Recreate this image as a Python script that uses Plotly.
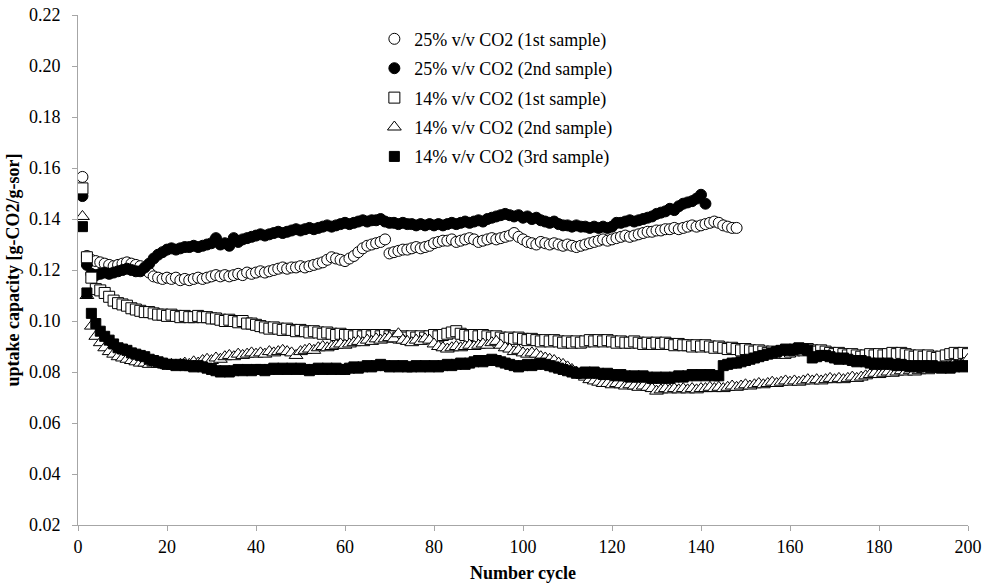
import plotly.graph_objects as go

# ---------------- data ----------------
s25_1 = [0.1565, 0.1255,
         0.124, 0.1235, 0.123, 0.1225, 0.122, 0.1215, 0.122, 0.1225, 0.123, 0.1225, 0.122, 0.1215,
         0.120, 0.119, 0.1175, 0.117, 0.1165, 0.117,
         0.1165, 0.117, 0.116, 0.1165, 0.116, 0.1165, 0.117, 0.1165, 0.117, 0.1175,
         0.118, 0.1175, 0.118, 0.1175, 0.118, 0.1185, 0.118, 0.119, 0.1185, 0.119,
         0.1195, 0.119, 0.1195, 0.120, 0.1205, 0.121, 0.1205, 0.121, 0.121, 0.1215,
         0.121, 0.1215, 0.122, 0.1225, 0.123, 0.124, 0.125, 0.1245, 0.124, 0.1235,
         0.1245, 0.1255, 0.127, 0.1285, 0.1295, 0.130, 0.1305, 0.131, 0.132, 0.1265,
         0.127, 0.1275, 0.128, 0.128, 0.1285, 0.129, 0.1285, 0.129, 0.1295, 0.1305,
         0.131, 0.1315, 0.1315, 0.132, 0.131, 0.1315, 0.132, 0.1325, 0.132, 0.131,
         0.1315, 0.132, 0.1325, 0.132, 0.1325, 0.133, 0.1335, 0.1345, 0.133, 0.132,
         0.131, 0.1305, 0.130, 0.131, 0.1305, 0.130, 0.1305, 0.130, 0.1295, 0.130,
         0.1295, 0.129, 0.1295, 0.130, 0.1305, 0.131, 0.1315, 0.132, 0.1315, 0.132,
         0.1325, 0.133, 0.1335, 0.133, 0.1335, 0.134, 0.1345, 0.135, 0.135, 0.1355,
         0.1355, 0.136, 0.136, 0.1365, 0.136, 0.1365, 0.137, 0.1375, 0.137, 0.1375,
         0.138, 0.1385, 0.139, 0.1385, 0.1375, 0.137, 0.1365, 0.1365]

s25_2 = [0.149, 0.122,
         0.1185, 0.118, 0.1185, 0.119, 0.1185, 0.119, 0.1195, 0.120, 0.1205, 0.120, 0.1195, 0.1195,
         0.121, 0.1225, 0.1245, 0.126, 0.127, 0.128,
         0.1285, 0.128, 0.1285, 0.129, 0.129, 0.1295, 0.129, 0.1295, 0.130, 0.1305,
         0.1325, 0.130, 0.1305, 0.1295, 0.1325, 0.131, 0.132, 0.1325, 0.133, 0.1335,
         0.134, 0.1335, 0.134, 0.1345, 0.135, 0.1345, 0.135, 0.1355, 0.136, 0.1355,
         0.136, 0.1365, 0.136, 0.1365, 0.137, 0.1375, 0.137, 0.1375, 0.138, 0.1385,
         0.138, 0.1385, 0.139, 0.1395, 0.139, 0.1395, 0.1395, 0.140, 0.139, 0.1385,
         0.1385, 0.138, 0.1385, 0.138, 0.138, 0.1375, 0.138, 0.1375, 0.138, 0.1375,
         0.138, 0.1375, 0.138, 0.1385, 0.138, 0.1385, 0.139, 0.1385, 0.139, 0.1395,
         0.139, 0.140, 0.1405, 0.141, 0.1415, 0.142, 0.1415, 0.141, 0.1415, 0.1405,
         0.141, 0.140, 0.1405, 0.1395, 0.139, 0.1385, 0.139, 0.138, 0.1375, 0.1375,
         0.137, 0.1375, 0.137, 0.137, 0.1365, 0.137, 0.1365, 0.137, 0.1365, 0.137,
         0.1385, 0.1385, 0.139, 0.1395, 0.139, 0.1395, 0.140, 0.1405, 0.141, 0.142,
         0.1425, 0.143, 0.144, 0.1435, 0.145, 0.146, 0.1465, 0.147, 0.148, 0.1495, 0.146]

s14_1 = [0.152, 0.125, 0.117,
         0.1125, 0.112, 0.111, 0.1095, 0.108, 0.107, 0.1065,
         0.106, 0.105, 0.1045, 0.104, 0.1035, 0.1035, 0.103, 0.1025, 0.1025, 0.102,
         0.1025, 0.102, 0.1015, 0.102, 0.1015, 0.1015, 0.102, 0.1015, 0.1015, 0.101,
         0.101, 0.1005, 0.100, 0.1005, 0.100, 0.0995, 0.100, 0.099, 0.099, 0.0985,
         0.098, 0.0975, 0.097, 0.0975, 0.097, 0.0965, 0.097, 0.0965, 0.096, 0.0965,
         0.096, 0.0955, 0.096, 0.0955, 0.095, 0.0955, 0.095, 0.0945, 0.095, 0.0945,
         0.0945, 0.094, 0.0945, 0.094, 0.0945, 0.094, 0.0945, 0.094, 0.0945, 0.094,
         0.094, 0.0935, 0.094, 0.0935, 0.094, 0.0935, 0.094, 0.0935, 0.094, 0.0945,
         0.094, 0.0945, 0.095, 0.0955, 0.096, 0.095, 0.0945, 0.094, 0.0945, 0.094,
         0.0945, 0.094, 0.0935, 0.094, 0.0935, 0.093, 0.0935, 0.093, 0.0935, 0.093,
         0.0925, 0.093, 0.0925, 0.092, 0.0925, 0.092, 0.0925, 0.092, 0.0915, 0.092,
         0.0915, 0.092, 0.0915, 0.092, 0.0925, 0.092, 0.0925, 0.092, 0.0925, 0.092,
         0.0915, 0.092, 0.0915, 0.0915, 0.092, 0.0915, 0.091, 0.0915, 0.091, 0.0915,
         0.091, 0.0915, 0.091, 0.0905, 0.091, 0.0905, 0.0905, 0.090, 0.0905, 0.090,
         0.0905, 0.090, 0.0895, 0.090, 0.0895, 0.089, 0.0895, 0.089, 0.0885, 0.089,
         0.0885, 0.088, 0.0885, 0.088, 0.0875, 0.088, 0.0875, 0.088, 0.0875, 0.088,
         0.0885, 0.089, 0.0885, 0.089, 0.0885, 0.088, 0.0885, 0.088, 0.0875, 0.087,
         0.0875, 0.087, 0.0865, 0.087, 0.0865, 0.086, 0.0865, 0.087, 0.0865, 0.087,
         0.0865, 0.087, 0.0875, 0.087, 0.0875, 0.087, 0.0865, 0.086, 0.0865, 0.086,
         0.0865, 0.086, 0.0855, 0.086, 0.0865, 0.087, 0.0875, 0.087, 0.0875, 0.087]

s14_2 = [0.141, 0.110, 0.098,
         0.094, 0.0915, 0.0895, 0.088, 0.087, 0.086, 0.0855,
         0.085, 0.0845, 0.084, 0.0835, 0.0835, 0.083, 0.0835, 0.083, 0.083, 0.0825,
         0.083, 0.0825, 0.083, 0.0835, 0.083, 0.084, 0.0835, 0.0845, 0.085, 0.0845,
         0.0855, 0.085, 0.086, 0.0865, 0.086, 0.087, 0.0865, 0.087, 0.0875, 0.087,
         0.0875, 0.087, 0.088, 0.0875, 0.088, 0.0885, 0.088, 0.0875, 0.0865, 0.088,
         0.0885, 0.089, 0.0885, 0.0895, 0.090, 0.0895, 0.090, 0.0905, 0.091, 0.0905,
         0.091, 0.0915, 0.092, 0.0915, 0.0925, 0.092, 0.093, 0.0925, 0.093, 0.0935,
         0.093, 0.095, 0.0925, 0.092, 0.0915, 0.0925, 0.092, 0.093, 0.0925, 0.091,
         0.090, 0.0895, 0.089, 0.0895, 0.090, 0.0895, 0.090, 0.0905, 0.090, 0.0905,
         0.091, 0.0905, 0.0915, 0.092, 0.0905, 0.0895, 0.089, 0.088, 0.0885, 0.0875,
         0.087, 0.0875, 0.087, 0.086, 0.0855, 0.085, 0.0845, 0.0835, 0.083, 0.082,
         0.081, 0.080, 0.079, 0.078, 0.077, 0.0765, 0.076, 0.0755, 0.0755, 0.075,
         0.0755, 0.075, 0.0745, 0.075, 0.0745, 0.074, 0.0745, 0.074, 0.0735, 0.0725,
         0.073, 0.0735, 0.073, 0.0735, 0.073, 0.0735, 0.073, 0.0735, 0.073, 0.0735,
         0.0735, 0.074, 0.0735, 0.074, 0.0735, 0.074, 0.0745, 0.074, 0.0745, 0.075,
         0.0745, 0.075, 0.0755, 0.075, 0.0755, 0.076, 0.0755, 0.076, 0.0765, 0.076,
         0.0765, 0.076, 0.0765, 0.077, 0.0765, 0.077, 0.0765, 0.077, 0.0775, 0.077,
         0.0775, 0.077, 0.0775, 0.078, 0.0775, 0.078, 0.0785, 0.079, 0.0795, 0.079,
         0.0795, 0.080, 0.0795, 0.080, 0.0805, 0.080, 0.0805, 0.080, 0.0805, 0.081,
         0.0805, 0.081, 0.0815, 0.081, 0.0815, 0.082, 0.0825, 0.083, 0.0835, 0.085]

s14_3 = [0.137, 0.111, 0.103,
         0.099, 0.096, 0.094, 0.0925, 0.091, 0.0895, 0.089,
         0.0885, 0.0875, 0.087, 0.0865, 0.086, 0.085, 0.0845, 0.084, 0.0835, 0.083,
         0.083, 0.0825, 0.083, 0.0825, 0.0825, 0.082, 0.0825, 0.082, 0.0815, 0.081,
         0.0805, 0.080, 0.0805, 0.080, 0.0805, 0.081, 0.0805, 0.081, 0.0805, 0.081,
         0.081, 0.0805, 0.081, 0.0815, 0.081, 0.0815, 0.081, 0.0815, 0.081, 0.0815,
         0.081, 0.0805, 0.081, 0.0815, 0.081, 0.0815, 0.081, 0.0815, 0.081, 0.081,
         0.0815, 0.082, 0.0815, 0.082, 0.0825, 0.082, 0.0825, 0.083, 0.0825, 0.082,
         0.0825, 0.082, 0.0825, 0.082, 0.082, 0.0825, 0.082, 0.0825, 0.082, 0.0825,
         0.082, 0.0825, 0.083, 0.0825, 0.083, 0.0835, 0.083, 0.0835, 0.084, 0.0845,
         0.084, 0.0845, 0.085, 0.0845, 0.084, 0.0835, 0.083, 0.0825, 0.082, 0.0825,
         0.083, 0.0825, 0.083, 0.0835, 0.083, 0.0825, 0.082, 0.0815, 0.081, 0.0805,
         0.080, 0.0795, 0.0795, 0.080, 0.0795, 0.080, 0.0795, 0.079, 0.0795, 0.079,
         0.0785, 0.079, 0.0785, 0.078, 0.0785, 0.078, 0.0785, 0.078, 0.0775, 0.078,
         0.0775, 0.078, 0.0775, 0.078, 0.0785, 0.078, 0.0785, 0.079, 0.0785, 0.079,
         0.0785, 0.079, 0.0785, 0.0785, 0.0825, 0.083, 0.0835, 0.0835, 0.084, 0.0845,
         0.085, 0.0855, 0.086, 0.0865, 0.087, 0.0875, 0.088, 0.0885, 0.089, 0.0885,
         0.089, 0.0895, 0.089, 0.0885, 0.0855, 0.086, 0.0865, 0.0865, 0.086, 0.0855,
         0.085, 0.0855, 0.085, 0.0845, 0.084, 0.0845, 0.084, 0.0835, 0.083, 0.0835,
         0.083, 0.0835, 0.083, 0.0825, 0.083, 0.0825, 0.082, 0.0825, 0.082, 0.0825,
         0.082, 0.0825, 0.082, 0.0815, 0.082, 0.0815, 0.082, 0.0825, 0.082, 0.0825]

series_names = ["25% v/v CO2 (1st sample)", "25% v/v CO2 (2nd sample)",
                "14% v/v CO2 (1st sample)", "14% v/v CO2 (2nd sample)",
                "14% v/v CO2 (3rd sample)"]
series_values = [s25_1, s25_2, s14_1, s14_2, s14_3]
x_ticks = [0, 20, 40, 60, 80, 100, 120, 140, 160, 180, 200]
y_ticks = [0.02, 0.04, 0.06, 0.08, 0.10, 0.12, 0.14, 0.16, 0.18, 0.20, 0.22]
y_tick_labels = ["0.02", "0.04", "0.06", "0.08", "0.10", "0.12", "0.14", "0.16", "0.18", "0.20", "0.22"]

# ---------------- styles ----------------
styles = [
    dict(symbol="circle", color="white", size=11),
    dict(symbol="circle", color="black", size=11),
    dict(symbol="square", color="white", size=11),
    dict(symbol="triangle-up", color="white", size=12),
    dict(symbol="square", color="black", size=10),
]

FONT = "Liberation Serif, Times New Roman, serif"

fig = go.Figure()
for name, vals, st in zip(series_names, series_values, styles):
    fig.add_trace(go.Scatter(
        x=list(range(1, len(vals) + 1)), y=vals, mode="markers", name=name,
        legendgroup=name,
        marker=dict(symbol=st["symbol"], size=st["size"], color=st["color"],
                    line=dict(color="black", width=1)),
    ))

axis_common = dict(showgrid=False, zeroline=False, showline=True, linecolor="#a6a6a6",
                   linewidth=1, ticks="outside", ticklen=5, tickcolor="#a6a6a6",
                   automargin=False,
                   tickfont=dict(family=FONT, size=18, color="black"))

fig.update_layout(
    width=983, height=583,
    margin=dict(l=78, r=15, t=15, b=58),
    paper_bgcolor="white", plot_bgcolor="white",
    font=dict(family=FONT, size=18, color="black"),
    showlegend=True,
    legend=dict(x=0.333, y=0.989, xanchor="left", yanchor="top",
                font=dict(family=FONT, size=18, color="black"),
                bgcolor="rgba(0,0,0,0)", tracegroupgap=3, itemwidth=30),
    xaxis=dict(range=[0, 200], tickvals=x_ticks,
               title=dict(text="<b>Number cycle</b>", font=dict(family=FONT, size=18), standoff=14),
               **axis_common),
    yaxis=dict(range=[0.02, 0.22], tickvals=y_ticks, ticktext=y_tick_labels,
               ticklabelstandoff=8,
               title=dict(text="<b>uptake capacity [g-CO2/g-sor]</b>", font=dict(family=FONT, size=18), standoff=4),
               **axis_common),
)

fig.write_html("out.html")
